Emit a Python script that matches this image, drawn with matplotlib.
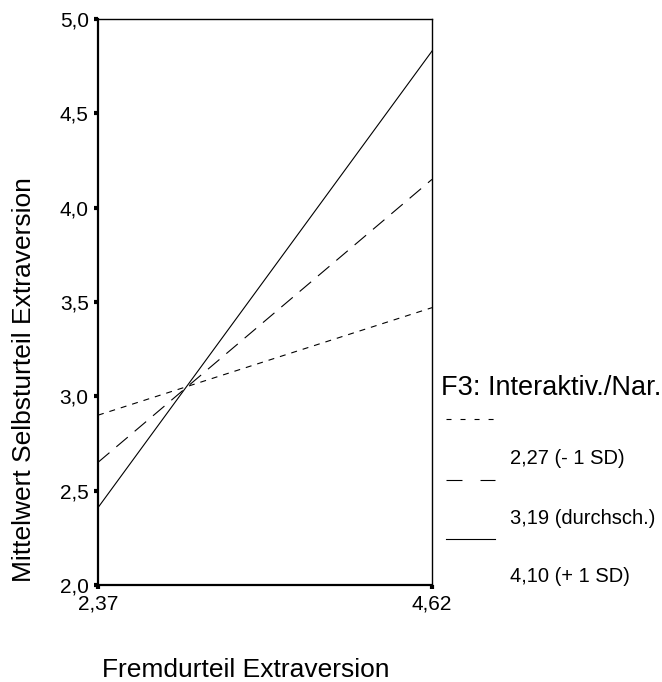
import matplotlib
matplotlib.use("Agg")
import matplotlib.pyplot as plt
from matplotlib.lines import Line2D

plt.rcParams['font.family'] = ['Liberation Sans', 'DejaVu Sans']
plt.rcParams['lines.scale_dashes'] = False

# Simple slopes: self-rating vs. other-rating at three moderator levels
x_values = [2.37, 4.62]
x_ticklabels = ["2,37", "4,62"]
y_ticks = [2.0, 2.5, 3.0, 3.5, 4.0, 4.5, 5.0]
y_ticklabels = ["2,0", "2,5", "3,0", "3,5", "4,0", "4,5", "5,0"]

series_labels = ["2,27 (- 1 SD)", "3,19 (durchsch.)", "4,10 (+ 1 SD)"]
low_sd = [2.90, 3.47]
mean_level = [2.65, 4.15]
high_sd = [2.41, 4.83]
series_values = [low_sd, mean_level, high_sd]

# dash patterns (points) for plot lines and legend samples
plot_dashes = [(4.3, 4.3), (10.8, 6.5), None]
legend_dashes = [(3.6, 6.5), (11.5, 13.0), None]

W, H = 662, 682
fig = plt.figure(figsize=(W / 100, H / 100), dpi=100)
left, right, top, bottom = 98, 432, 19, 585
ax = fig.add_axes([left / W, 1 - bottom / H, (right - left) / W, (bottom - top) / H])

for vals, dash in zip(series_values, plot_dashes):
    ln, = ax.plot(x_values, vals, color="black", lw=0.8, clip_on=False)
    if dash:
        ln.set_dashes(dash)

ax.set_xlim(x_values[0], x_values[1])
ax.set_ylim(2.0, 5.0)
ax.set_xticks(x_values)
ax.set_xticklabels(x_ticklabels)
ax.set_yticks(y_ticks)
ax.set_yticklabels(y_ticklabels)
ax.tick_params(axis="both", direction="out", length=3.2, width=3.0, labelsize=15,
               color="black")
ax.tick_params(axis="y", pad=3.5)
ax.tick_params(axis="x", pad=3.5)
for s in ax.spines.values():
    s.set_linewidth(1.0)
ax.spines["left"].set_linewidth(1.6)
ax.spines["bottom"].set_linewidth(1.6)


# Figure-pixel helpers for free-standing text and legend samples
def fx(px):
    return px / W


def fy(py):
    return 1 - py / H


fig.text(fx(24), fy(380), "Mittelwert Selbsturteil Extraversion", fontsize=19,
         rotation=90, ha="center", va="center")
fig.text(fx(246), fy(677), "Fremdurteil Extraversion", fontsize=19,
         ha="center", va="baseline")

fig.text(fx(441), fy(395), "F3: Interaktiv./Nar.", fontsize=19.5, ha="left", va="baseline")
sample_y = [419, 480, 539]
label_baseline = [464, 524, 582]
for dash, sy, ly, lab in zip(legend_dashes, sample_y, label_baseline, series_labels):
    l = Line2D([fx(446), fx(495)], [fy(sy), fy(sy)], color="black", lw=0.8,
               transform=fig.transFigure)
    if dash:
        l.set_dashes(dash)
    fig.add_artist(l)
    fig.text(fx(510), fy(ly), lab, fontsize=14.5, ha="left", va="baseline")

fig.savefig("out.png", dpi=100)
